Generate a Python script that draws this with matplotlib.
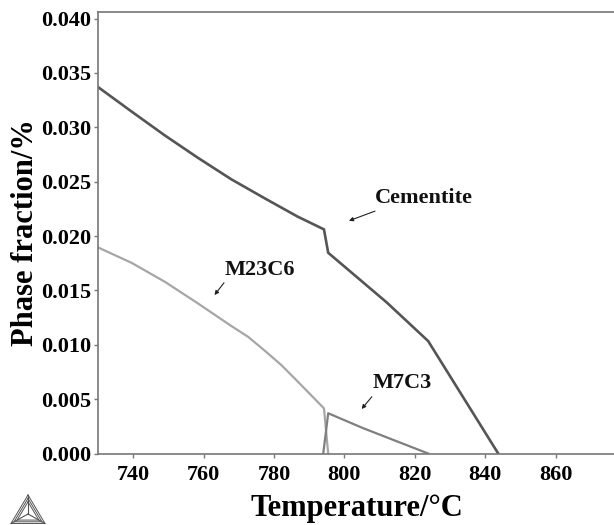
import matplotlib
matplotlib.use('Agg')
import matplotlib.pyplot as plt

plt.rcParams['font.family'] = ['Liberation Serif', 'DejaVu Serif']
plt.rcParams['font.weight'] = 'bold'

W, H = 614, 525

cementite_t = [730, 739.4, 748.9, 758.4, 767.8, 777.4, 786.8, 794.2, 795.4, 812, 823.8, 843.7]
cementite_y = [0.0337, 0.03148, 0.02927, 0.02719, 0.02523, 0.02346, 0.02177, 0.02061,
               0.01846, 0.0139, 0.01034, 0.0]

m23c6_t = [730, 739.5, 749, 758.4, 767.9, 772.6, 777.4, 782.1, 786.8, 794.2, 795.4]
m23c6_y = [0.01895, 0.01754, 0.01579, 0.0138, 0.01172, 0.01074, 0.00945, 0.00813, 0.0066, 0.00415, 0.0]

m7c3_t = [794.0, 795.4, 805.4, 823.8]
m7c3_y = [0.0, 0.0037, 0.00232, 0.0]

xticks = [740, 760, 780, 800, 820, 840, 860]
yticks = [0.000, 0.005, 0.010, 0.015, 0.020, 0.025, 0.030, 0.035, 0.040]

fig = plt.figure(figsize=(W / 100, H / 100), dpi=100)
ax = fig.add_axes([98 / W, 1 - 453.5 / H, 516 / W, 441.5 / H])

ax.plot(cementite_t, cementite_y, color='#555555', lw=1.9)
ax.plot(m23c6_t, m23c6_y, color='#a6a6a6', lw=1.6)
ax.plot(m7c3_t, m7c3_y, color='#7f7f7f', lw=1.6)

ax.set_xlim(730, 876.6)
ax.set_ylim(0, 0.0406)
ax.set_xticks(xticks)
ax.set_yticks(yticks)
ax.set_yticklabels(['%.3f' % v for v in yticks])
ax.tick_params(axis='both', length=3, width=1, color='#777777', labelsize=16)
ax.tick_params(axis='x', pad=5)
ax.tick_params(axis='y', pad=2)

ax.spines['right'].set_visible(False)
for side in ['left', 'top', 'bottom']:
    ax.spines[side].set_color('#777777')
    ax.spines[side].set_linewidth(1.2)

ax.set_xlabel('Temperature/°C', fontsize=22, fontweight='bold', labelpad=6.5, x=0.502)
ax.set_ylabel('Phase fraction/%', fontsize=22, fontweight='bold', labelpad=1)


def note(label, text_xy, tail, head):
    ax.text(text_xy[0], text_xy[1], label, fontsize=16, fontweight='bold',
            va='center', ha='left', color='#111111')
    ax.annotate('', xy=head, xytext=tail,
                arrowprops=dict(arrowstyle='-|>', color='#222222', lw=0.8,
                                mutation_scale=6, shrinkA=0, shrinkB=0))


note('Cementite', (808.7, 0.02348), (808.7, 0.02229), (801.3, 0.0214))
note('M23C6', (766, 0.01687), (765.8, 0.0157), (763.1, 0.01457))
note('M7C3', (808, 0.00645), (807.8, 0.00522), (804.9, 0.00409))

# Thermo-Calc style logo
logo = fig.add_axes([0, 0, 1, 1], facecolor='none')
logo.set_xlim(0, W)
logo.set_ylim(H, 0)
logo.axis('off')
apex = (28, 495)
left = (11, 523.5)
right = (45, 523.5)
mid = (28, 514)
for s in [0.0, 0.18, 0.36]:
    a = (apex[0], apex[1] + (mid[1] - apex[1]) * s)
    l = (left[0] + (mid[0] - left[0]) * s, left[1] + (mid[1] - left[1]) * s)
    r = (right[0] + (mid[0] - right[0]) * s, right[1] + (mid[1] - right[1]) * s)
    logo.plot([a[0], l[0], r[0], a[0]], [a[1], l[1], r[1], a[1]], color='#555555', lw=0.7)
for p in [apex, left, right]:
    logo.plot([p[0], mid[0]], [p[1], mid[1]], color='#555555', lw=0.8)

fig.savefig('out.png', dpi=100)
